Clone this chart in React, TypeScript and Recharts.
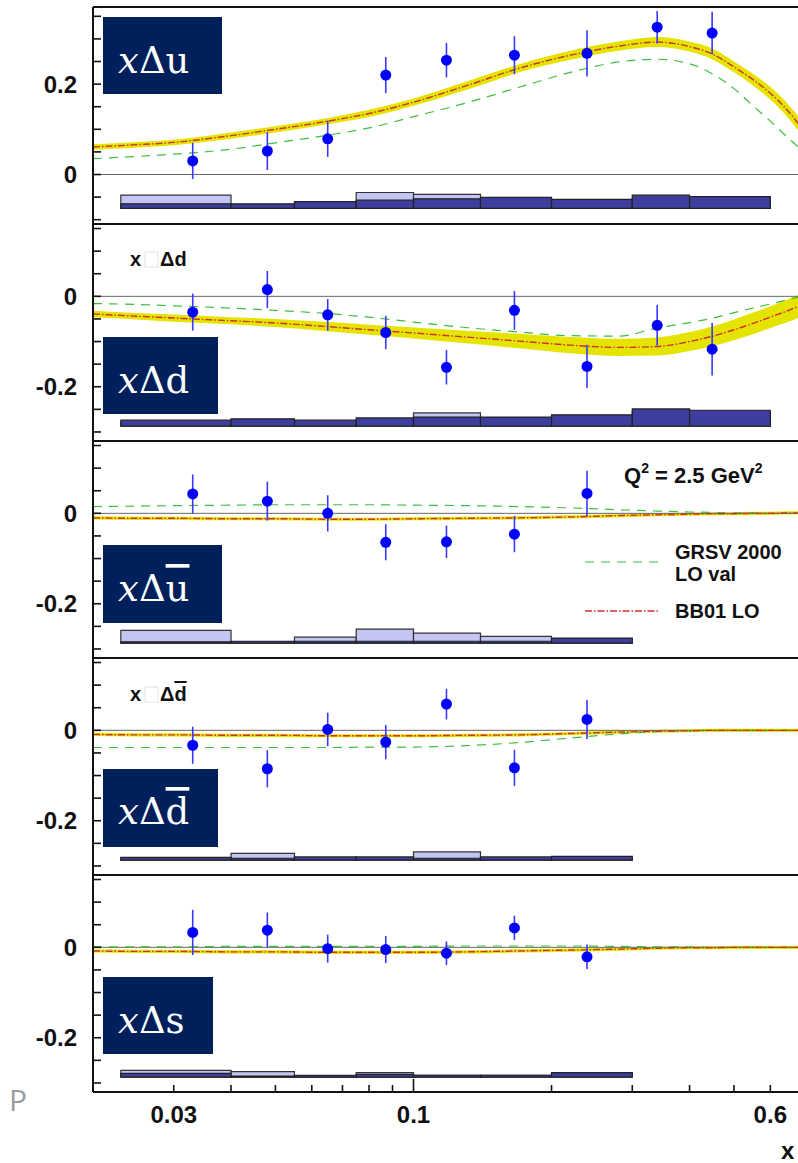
import React from "react";
import {
  Area,
  ComposedChart,
  ErrorBar,
  Line,
  ReferenceArea,
  ReferenceLine,
  Scatter,
  XAxis,
  YAxis,
} from "recharts";

// x grid on which the model curves are sampled
const curveX = [0.02, 0.025, 0.03, 0.04, 0.05, 0.065, 0.08, 0.1, 0.13, 0.17, 0.22, 0.28, 0.34, 0.4, 0.45, 0.5, 0.55, 0.6, 0.65, 0.7];

// BB01 LO central values, half width of its band, GRSV 2000 LO val
const uBB = [0.061, 0.066, 0.071, 0.086, 0.1, 0.118, 0.135, 0.16, 0.196, 0.235, 0.264, 0.284, 0.293, 0.283, 0.266, 0.238, 0.21, 0.18, 0.145, 0.105];
const uBand = [0.006, 0.006, 0.006, 0.007, 0.007, 0.007, 0.008, 0.008, 0.009, 0.009, 0.01, 0.01, 0.011, 0.011, 0.012, 0.012, 0.013, 0.014, 0.015, 0.016];
const uGRSV = [0.035, 0.04, 0.045, 0.056, 0.07, 0.087, 0.103, 0.128, 0.158, 0.193, 0.226, 0.249, 0.255, 0.245, 0.222, 0.19, 0.152, 0.118, 0.085, 0.055];

const dBB = [-0.039, -0.044, -0.048, -0.054, -0.059, -0.067, -0.074, -0.081, -0.09, -0.099, -0.108, -0.113, -0.111, -0.1, -0.088, -0.074, -0.06, -0.046, -0.033, -0.02];
const dBand = [0.007, 0.007, 0.008, 0.008, 0.009, 0.01, 0.011, 0.012, 0.014, 0.016, 0.018, 0.019, 0.02, 0.021, 0.022, 0.023, 0.024, 0.024, 0.025, 0.025];
const dGRSV = [-0.016, -0.018, -0.021, -0.026, -0.031, -0.038, -0.046, -0.057, -0.069, -0.079, -0.087, -0.088, -0.07, -0.058, -0.048, -0.036, -0.026, -0.017, -0.008, 0];

const seaBand = [0.0035, 0.0035, 0.0035, 0.0035, 0.0035, 0.0035, 0.0035, 0.0035, 0.0035, 0.0035, 0.0035, 0.0035, 0.0035, 0.0035, 0.0035, 0.0035, 0.0035, 0.0035, 0.0035, 0.0035];

const ubarBB = [-0.01, -0.011, -0.011, -0.012, -0.012, -0.013, -0.013, -0.012, -0.011, -0.01, -0.008, -0.005, -0.003, -0.002, -0.001, -0.001, 0, 0, 0.001, 0.001];
const ubarGRSV = [0.015, 0.016, 0.017, 0.018, 0.019, 0.019, 0.019, 0.018, 0.017, 0.015, 0.012, 0.008, 0.005, 0.003, 0.002, 0.001, 0.001, 0, 0, 0];

const dbarBB = [-0.009, -0.01, -0.01, -0.011, -0.011, -0.012, -0.012, -0.012, -0.011, -0.01, -0.007, -0.004, -0.002, -0.001, 0, 0, 0, 0, 0, 0];
const dbarGRSV = [-0.038, -0.038, -0.038, -0.038, -0.038, -0.038, -0.037, -0.037, -0.034, -0.027, -0.017, -0.008, -0.003, -0.001, 0, 0, 0, 0, 0, 0];

const sBB = [-0.008, -0.009, -0.009, -0.01, -0.01, -0.011, -0.011, -0.011, -0.01, -0.008, -0.006, -0.004, -0.002, -0.001, -0.001, 0, 0, 0, 0, 0];
const sGRSV = [0.001, 0.001, 0.001, 0.002, 0.002, 0.002, 0.002, 0.002, 0.003, 0.003, 0.003, 0.002, 0.001, 0.001, 0, 0, 0, 0, 0, 0];

// measured points (x bins)
const pointX = [0.033, 0.048, 0.065, 0.087, 0.118, 0.166, 0.239, 0.34, 0.448];

const uVals = [0.03, 0.052, 0.079, 0.22, 0.253, 0.264, 0.268, 0.326, 0.313];
const uErr = [0.04, 0.042, 0.04, 0.04, 0.038, 0.042, 0.051, 0.036, 0.047];
const dVals = [-0.035, 0.015, -0.041, -0.08, -0.157, -0.031, -0.155, -0.064, -0.117];
const dErr = [0.041, 0.041, 0.035, 0.037, 0.038, 0.043, 0.048, 0.045, 0.058];
const ubarVals = [0.043, 0.027, 0.0, -0.064, -0.063, -0.046, 0.044];
const ubarErr = [0.043, 0.043, 0.04, 0.04, 0.036, 0.04, 0.05];
const dbarVals = [-0.033, -0.085, 0.002, -0.026, 0.058, -0.083, 0.024];
const dbarErr = [0.041, 0.041, 0.037, 0.038, 0.034, 0.04, 0.043];
const sVals = [0.033, 0.038, -0.003, -0.005, -0.013, 0.043, -0.021];
const sErr = [0.05, 0.039, 0.031, 0.03, 0.026, 0.027, 0.027];

// systematic error bands (heights above the baseline per x bin)
const binEdges = [0.023, 0.04, 0.055, 0.075, 0.1, 0.14, 0.2, 0.3, 0.4, 0.6];
const uSysLight = [0.029, 0.007, 0.009, 0.035, 0.031, 0.022, 0.015, 0.022, 0.02];
const uSysDark = [0.01, 0.01, 0.015, 0.018, 0.021, 0.024, 0.02, 0.029, 0.026];
const dSysLight = [0.009, 0.011, 0.009, 0.013, 0.029, 0.018, 0.02, 0.033, 0.029];
const dSysDark = [0.013, 0.016, 0.013, 0.018, 0.02, 0.02, 0.025, 0.038, 0.035];
const ubarSysLight = [0.028, 0.002, 0.013, 0.031, 0.022, 0.015, 0.009];
const ubarSysDark = [0.003, 0.004, 0.004, 0.004, 0.004, 0.004, 0.011];
const dbarSysLight = [0.004, 0.015, 0.005, 0.005, 0.018, 0.005, 0.006];
const dbarSysDark = [0.006, 0.004, 0.007, 0.007, 0.004, 0.007, 0.008];
const sSysLight = [0.015, 0.012, 0.003, 0.01, 0.004, 0.004, 0.008];
const sSysDark = [0.008, 0.002, 0.004, 0.006, 0.004, 0.004, 0.01];

const xTicks = [0.03, 0.04, 0.05, 0.06, 0.07, 0.08, 0.09, 0.1, 0.2, 0.3, 0.4, 0.5, 0.6, 0.7];
const xLabels = [0.03, 0.1, 0.6];
const yTicksTop = [-0.1, -0.05, 0, 0.05, 0.1, 0.15, 0.2, 0.25, 0.3, 0.35];
const yTicksLow = [-0.3, -0.25, -0.2, -0.15, -0.1, -0.05, 0, 0.05, 0.1, 0.15];
const yLabelsTop = [0, 0.2];
const yLabelsLow = [0, -0.2];

const PLOT_H = 217;
const SANS = "'Liberation Sans', Arial, Helvetica, sans-serif";
const GREEN = "#3cbf3c";
const RED = "#cf3030";

type PanelProps = {
  plotTop: number;
  domain: [number, number];
  yTicks: number[];
  yLabels: number[];
  bb: number[];
  band: number[];
  grsv: number[];
  vals: number[];
  errs: number[];
  light: number[];
  dark: number[];
  base: number;
  last?: boolean;
};

function makeYTick(labels: number[]) {
  return (props: any) => {
    const { x, y, payload } = props;
    const v = payload.value;
    return (
      <g>
        <line x1={x} x2={x + 8} y1={y} y2={y} stroke="#111" strokeWidth={1.6} />
        {labels.includes(v) && (
          <text x={x - 16} y={y} dy="0.36em" textAnchor="end" fontSize={24} fontWeight="bold" fontFamily={SANS} fill="#111">
            {String(v)}
          </text>
        )}
      </g>
    );
  };
}

function makeXTick(last: boolean) {
  return (props: any) => {
    const { x, y, payload } = props;
    const v = payload.value;
    const len = v === 0.1 ? 13 : 7;
    return (
      <g>
        <line x1={x} x2={x} y1={y} y2={y - len} stroke="#111" strokeWidth={1.6} />
        {last && xLabels.includes(v) && (
          <text x={x} y={y + 31} textAnchor="middle" fontSize={24} fontWeight="bold" fontFamily={SANS} fill="#111">
            {String(v)}
          </text>
        )}
      </g>
    );
  };
}

function Panel({ plotTop, domain, yTicks, yLabels, bb, band, grsv, vals, errs, light, dark, base, last = false }: PanelProps) {
  const curveData = curveX.map((x, i) => ({
    x,
    bb: bb[i],
    band: [bb[i] - band[i], bb[i] + band[i]],
    grsv: grsv[i],
  }));
  const pts = vals.map((v, i) => ({ x: pointX[i], y: v, err: errs[i] }));
  const xAxisH = last ? 72 : 0;
  const mTop = 4;
  const mBottom = last ? 0 : 4;

  return (
    <div style={{ position: "absolute", left: 0, top: plotTop - mTop }}>
      <ComposedChart
        width={809}
        height={mTop + PLOT_H + mBottom + xAxisH}
        data={curveData}
        margin={{ top: mTop, right: 8, bottom: mBottom, left: 0 }}
      >
        <XAxis
          dataKey="x"
          type="number"
          scale="log"
          domain={[0.02, 0.7]}
          allowDataOverflow
          ticks={xTicks}
          interval={0}
          height={xAxisH}
          tickSize={0}
          tickMargin={0}
          tickLine={false}
          axisLine={{ stroke: "#111", strokeWidth: 2 }}
          tick={makeXTick(last)}
        />
        <YAxis
          type="number"
          domain={domain}
          allowDataOverflow
          ticks={yTicks}
          interval={0}
          width={93}
          tickSize={0}
          tickMargin={0}
          tickLine={false}
          axisLine={{ stroke: "#111", strokeWidth: 2 }}
          tick={makeYTick(yLabels)}
        />
        <ReferenceLine y={domain[1]} stroke="#111" strokeWidth={2} />
        <ReferenceLine y={0} stroke="#666" strokeWidth={1} />
        {light.map((h, i) => (
          <ReferenceArea
            key={"l" + i}
            x1={binEdges[i]}
            x2={binEdges[i + 1]}
            y1={base}
            y2={base + h}
            fill="#c5c5f3"
            fillOpacity={1}
            stroke="#333"
            strokeWidth={1.2}
          />
        ))}
        {dark.map((h, i) => (
          <ReferenceArea
            key={"d" + i}
            x1={binEdges[i]}
            x2={binEdges[i + 1]}
            y1={base}
            y2={base + h}
            fill="#3e3e9e"
            fillOpacity={1}
            stroke="#222"
            strokeWidth={1.2}
          />
        ))}
        <Area dataKey="band" type="monotone" stroke="none" fill="#e4e400" fillOpacity={1} isAnimationActive={false} />
        <Line dataKey="grsv" type="monotone" stroke={GREEN} strokeWidth={1.2} strokeDasharray="9 7" dot={false} isAnimationActive={false} />
        <Line dataKey="bb" type="monotone" stroke={RED} strokeWidth={1.4} strokeDasharray="7 2 1.5 2" dot={false} isAnimationActive={false} />
        <Scatter
          data={pts}
          dataKey="y"
          fill="#0000ff"
          isAnimationActive={false}
          shape={(p: any) => <circle cx={p.cx} cy={p.cy} r={5.5} fill="#0000ff" />}
        >
          <ErrorBar dataKey="err" direction="y" width={0} stroke="#3838ff" strokeWidth={1.6} />
        </Scatter>
      </ComposedChart>
    </div>
  );
}

function NavyLabel({ x, y, w, h, tx, ty, letter, bar }: { x: number; y: number; w: number; h: number; tx: number; ty: number; letter: string; bar?: boolean }) {
  return (
    <g>
      <rect x={x} y={y} width={w} height={h} fill="#00205c" />
      <text x={tx} y={ty} fill="#fff" fontFamily="'DejaVu Serif', 'Liberation Serif', serif" fontSize={37}>
        <tspan fontStyle="italic">x</tspan>
        <tspan>Δ</tspan>
        <tspan style={bar ? { textDecoration: "overline" } : undefined}>{letter}</tspan>
      </text>
    </g>
  );
}

function SmallLabel({ y, bar }: { y: number; bar?: boolean }) {
  return (
    <g fontFamily={SANS} fontWeight="bold" fontSize={20} fill="#111">
      <text x={130} y={y}>x</text>
      <rect x={145} y={y - 14} width={13} height={15} fill="none" stroke="#e2e2e2" strokeWidth={1} />
      <text x={160} y={y}>
        Δ<tspan style={bar ? { textDecoration: "overline" } : undefined}>d</tspan>
      </text>
    </g>
  );
}

export default function App() {
  const lowDomain: [number, number] = [-0.32, 0.16];
  return (
    <div style={{ position: "absolute", left: 0, top: 0, width: 798, height: 1163, overflow: "hidden", background: "#fff" }}>
      <Panel plotTop={7} domain={[-0.1095, 0.3706]} yTicks={yTicksTop} yLabels={yLabelsTop} bb={uBB} band={uBand} grsv={uGRSV} vals={uVals} errs={uErr} light={uSysLight} dark={uSysDark} base={-0.0748} />
      <Panel plotTop={224} domain={lowDomain} yTicks={yTicksLow} yLabels={yLabelsLow} bb={dBB} band={dBand} grsv={dGRSV} vals={dVals} errs={dErr} light={dSysLight} dark={dSysDark} base={-0.287} />
      <Panel plotTop={441} domain={lowDomain} yTicks={yTicksLow} yLabels={yLabelsLow} bb={ubarBB} band={seaBand} grsv={ubarGRSV} vals={ubarVals} errs={ubarErr} light={ubarSysLight} dark={ubarSysDark} base={-0.287} />
      <Panel plotTop={658} domain={lowDomain} yTicks={yTicksLow} yLabels={yLabelsLow} bb={dbarBB} band={seaBand} grsv={dbarGRSV} vals={dbarVals} errs={dbarErr} light={dbarSysLight} dark={dbarSysDark} base={-0.287} />
      <Panel plotTop={875} domain={lowDomain} yTicks={yTicksLow} yLabels={yLabelsLow} bb={sBB} band={seaBand} grsv={sGRSV} vals={sVals} errs={sErr} light={sSysLight} dark={sSysDark} base={-0.287} last />

      <svg width={798} height={1163} style={{ position: "absolute", left: 0, top: 0, pointerEvents: "none" }}>
        <NavyLabel x={103} y={17} w={119} h={77} tx={118} ty={73} letter="u" />
        <NavyLabel x={103} y={337} w={115} h={77} tx={118} ty={393} letter="d" />
        <NavyLabel x={103} y={545} w={119} h={78} tx={118} ty={601} letter="u" bar />
        <NavyLabel x={103} y={769} w={115} h={78} tx={118} ty={824} letter="d" bar />
        <NavyLabel x={103} y={977} w={110} h={77} tx={118} ty={1033} letter="s" />

        <SmallLabel y={266} />
        <SmallLabel y={701} bar />

        <text x={624} y={483} fontFamily={SANS} fontWeight="bold" fontSize={22} fill="#111">
          Q<tspan dy={-10} fontSize={14}>2</tspan>
          <tspan dy={10}> = 2.5 GeV</tspan>
          <tspan dy={-10} fontSize={14}>2</tspan>
        </text>

        <line x1={585} x2={660} y1={562} y2={562} stroke={GREEN} strokeWidth={1.2} strokeDasharray="9 7" />
        <text x={675} y={559} fontFamily={SANS} fontWeight="bold" fontSize={20} fill="#111">GRSV 2000</text>
        <text x={675} y={581} fontFamily={SANS} fontWeight="bold" fontSize={20} fill="#111">LO val</text>
        <line x1={585} x2={660} y1={611} y2={611} stroke={RED} strokeWidth={1.4} strokeDasharray="7 2 1.5 2" />
        <text x={675} y={618} fontFamily={SANS} fontWeight="bold" fontSize={20} fill="#111">BB01 LO</text>

        <text x={781} y={1159} fontFamily={SANS} fontWeight="bold" fontSize={24} fill="#111">x</text>
        <text x={9} y={1111} fontFamily="'Open Sans', sans-serif" fontSize={30} fill="#9b9b9b">P</text>
      </svg>
    </div>
  );
}
